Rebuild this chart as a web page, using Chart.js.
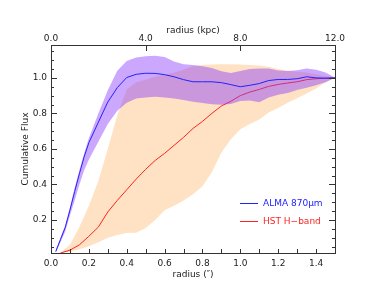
<!DOCTYPE html>
<html lang="en">
<head>
<meta charset="UTF-8">
<title>Cumulative Flux</title>
<script src="https://cdn.jsdelivr.net/npm/chart.js"></script>
<style>
  body { margin: 0; background: #fff; }
  .box { width: 379px; height: 286px; }
</style>
</head>
<body>
<div class="box"><canvas id="grafico"></canvas></div>
<script>
// ALMA 870um profile and its envelope
const radius = [0.025, 0.05, 0.075, 0.1, 0.125, 0.15, 0.175, 0.2, 0.25, 0.3, 0.35, 0.4, 0.45, 0.5,
  0.55, 0.6, 0.65, 0.7, 0.75, 0.8, 0.85, 0.9, 0.95, 1.0, 1.05, 1.1, 1.15, 1.2, 1.25, 1.3, 1.35, 1.4, 1.45, 1.5];
const almaFlux = [0.022, 0.09, 0.157, 0.255, 0.36, 0.46, 0.555, 0.635, 0.75, 0.864, 0.945, 1.002, 1.02, 1.026,
  1.025, 1.018, 1.006, 0.99, 0.978, 0.978, 0.978, 0.973, 0.962, 0.95, 0.958, 0.968, 0.985, 0.991, 0.991, 0.995, 1.006, 1.0, 0.998, 1.0];
const almaLow = [0.015, 0.075, 0.135, 0.225, 0.31, 0.40, 0.48, 0.54, 0.64, 0.74, 0.815, 0.86, 0.884, 0.89,
  0.893, 0.89, 0.884, 0.876, 0.866, 0.858, 0.852, 0.848, 0.853, 0.87, 0.872, 0.863, 0.89, 0.905, 0.915, 0.931, 0.945, 0.958, 0.975, 1.0];
const almaHigh = [0.03, 0.1, 0.17, 0.27, 0.38, 0.48, 0.575, 0.66, 0.80, 0.93, 1.04, 1.095, 1.115, 1.122,
  1.124, 1.118, 1.092, 1.077, 1.072, 1.066, 1.055, 1.037, 1.027, 1.038, 1.05, 1.053, 1.053, 1.042, 1.039, 1.043, 1.053, 1.045, 1.03, 1.0];

// HST H-band profile and its envelope
const hstRadius = [0.05, 0.1, 0.15, 0.2, 0.25, 0.3, 0.35, 0.4, 0.45, 0.5, 0.55, 0.6, 0.65, 0.7, 0.75,
  0.8, 0.85, 0.9, 0.95, 1.0, 1.05, 1.1, 1.15, 1.2, 1.25, 1.3, 1.35, 1.4, 1.45, 1.5];
const hstFlux = [0.014, 0.03, 0.06, 0.108, 0.16, 0.245, 0.31, 0.37, 0.43, 0.485, 0.535, 0.575, 0.62, 0.665, 0.715,
  0.755, 0.80, 0.842, 0.868, 0.90, 0.92, 0.935, 0.952, 0.963, 0.971, 0.978, 0.99, 0.995, 0.998, 1.0];
const hstLow = [0.014, 0.02, 0.035, 0.052, 0.075, 0.1, 0.115, 0.126, 0.128, 0.155, 0.2, 0.255, 0.28, 0.31, 0.345,
  0.39, 0.47, 0.58, 0.655, 0.71, 0.74, 0.765, 0.805, 0.83, 0.86, 0.885, 0.912, 0.94, 0.975, 1.0];
const hstHigh = [0.015, 0.06, 0.16, 0.28, 0.42, 0.6, 0.79, 0.935, 0.975, 0.99, 1.006, 1.018, 1.03, 1.045, 1.065,
  1.072, 1.075, 1.077, 1.077, 1.075, 1.072, 1.07, 1.063, 1.05, 1.04, 1.035, 1.03, 1.02, 1.01, 1.0];

const xTicks = [0.0, 0.2, 0.4, 0.6, 0.8, 1.0, 1.2, 1.4];
const kpcTicks = [0.0, 4.0, 8.0, 12.0];
const yTicks = [0.2, 0.4, 0.6, 0.8, 1.0];

const fonte = { family: 'DejaVu Sans', size: 9 };

function pontos(xs, ys) {
  return xs.map((x, i) => ({ x: x, y: ys[i] }));
}

// frame, inward ticks and legend, IDL style
const moldura = {
  id: 'moldura',
  afterDraw(chart) {
    const ctx = chart.ctx;
    const a = chart.chartArea;
    const sx = chart.scales.x, sy = chart.scales.y, sk = chart.scales.x2;
    ctx.save();
    ctx.strokeStyle = '#333';
    ctx.lineWidth = 1;
    ctx.strokeRect(a.left + 0.5, a.top + 0.5, a.right - a.left, a.bottom - a.top);
    ctx.beginPath();
    for (let v = 0.1; v < 1.5; v += 0.1) {
      const px = Math.round(sx.getPixelForValue(v)) + 0.5;
      ctx.moveTo(px, a.bottom); ctx.lineTo(px, a.bottom - 4);
    }
    for (let v = 0.05; v < 1.18; v += 0.05) {
      const py = Math.round(sy.getPixelForValue(v)) + 0.5;
      const major = Math.abs(v * 5 - Math.round(v * 5)) < 0.01;
      const len = major ? 6 : 3;
      ctx.moveTo(a.left, py); ctx.lineTo(a.left + len, py);
      ctx.moveTo(a.right, py); ctx.lineTo(a.right - len, py);
    }
    [4, 8].forEach(v => {
      const px = Math.round(sk.getPixelForValue(v)) + 0.5;
      ctx.moveTo(px, a.top); ctx.lineTo(px, a.top + 6);
    });
    ctx.stroke();

    // legenda
    const lx = a.left + 189, ly = a.top + 158;
    ctx.font = '9px "DejaVu Sans"';
    ctx.textBaseline = 'middle';
    [['ALMA 870\u03bcm', '#2222ff', 0], ['HST H\u2212band', '#ff2222', 18]].forEach(([txt, cor, dy]) => {
      ctx.strokeStyle = cor;
      ctx.beginPath();
      ctx.moveTo(lx, ly + dy + 0.5); ctx.lineTo(lx + 18, ly + dy + 0.5);
      ctx.stroke();
      ctx.fillStyle = cor;
      ctx.fillText(txt, lx + 23, ly + dy + 0.5);
    });
    ctx.restore();
  }
};

const config = {
  type: 'line',
  data: {
    datasets: [
      { data: pontos(radius, almaFlux), borderColor: '#2222ff', borderWidth: 1, fill: false, order: 0 },
      { data: pontos(radius, almaHigh), borderWidth: 0, borderColor: 'rgba(0,0,0,0)',
        backgroundColor: 'rgba(140,60,250,0.45)', fill: '+1', order: 1 },
      { data: pontos(radius, almaLow), borderWidth: 0, borderColor: 'rgba(0,0,0,0)', fill: false, order: 2 },
      { data: pontos(hstRadius, hstFlux), borderColor: '#ff2222', borderWidth: 1, fill: false, order: 3 },
      { data: pontos(hstRadius, hstHigh), borderWidth: 0, borderColor: 'rgba(0,0,0,0)',
        backgroundColor: 'rgb(255,226,196)', fill: '+1', order: 4 },
      { data: pontos(hstRadius, hstLow), borderWidth: 0, borderColor: 'rgba(0,0,0,0)', fill: false, order: 5 }
    ]
  },
  options: {
    responsive: true,
    maintainAspectRatio: false,
    animation: false,
    elements: { point: { radius: 0 }, line: { tension: 0 } },
    layout: { padding: { left: 0, right: 44, top: 0, bottom: 0 } },
    plugins: { legend: { display: false }, tooltip: { enabled: false } },
    scales: {
      x: {
        type: 'linear', position: 'bottom', min: 0, max: 1.5,
        afterBuildTicks: s => { s.ticks = xTicks.map(v => ({ value: v })); },
        afterFit: s => { s.height = 33; },
        ticks: { callback: v => v.toFixed(1), font: fonte, color: '#222', padding: 5, maxRotation: 0, autoSkip: false },
        grid: { display: false, drawTicks: false },
        border: { display: false },
        title: { display: true, text: 'radius (\u2033)', font: fonte, color: '#222', padding: { top: 0, bottom: 6 } }
      },
      x2: {
        type: 'linear', position: 'top', min: 0, max: 12,
        afterBuildTicks: s => { s.ticks = kpcTicks.map(v => ({ value: v })); },
        afterFit: s => { s.height = 45; },
        ticks: { callback: v => v.toFixed(1), font: fonte, color: '#222', padding: 1, maxRotation: 0, autoSkip: false },
        grid: { display: false, drawTicks: false },
        border: { display: false },
        title: { display: true, text: 'radius (kpc)', font: fonte, color: '#222', padding: { top: 25, bottom: 0 } }
      },
      y: {
        type: 'linear', position: 'left', min: 0.014, max: 1.185,
        afterBuildTicks: s => { s.ticks = yTicks.map(v => ({ value: v })); },
        afterFit: s => { s.width = 51; },
        ticks: { callback: v => v.toFixed(1), font: fonte, color: '#222', padding: 4 },
        grid: { display: false, drawTicks: false },
        border: { display: false },
        title: { display: true, text: 'Cumulative Flux', font: fonte, color: '#222', padding: { top: 20, bottom: 0 } }
      }
    }
  },
  plugins: [moldura]
};

let grafico = new Chart(document.getElementById('grafico'), config);
</script>
</body>
</html>
